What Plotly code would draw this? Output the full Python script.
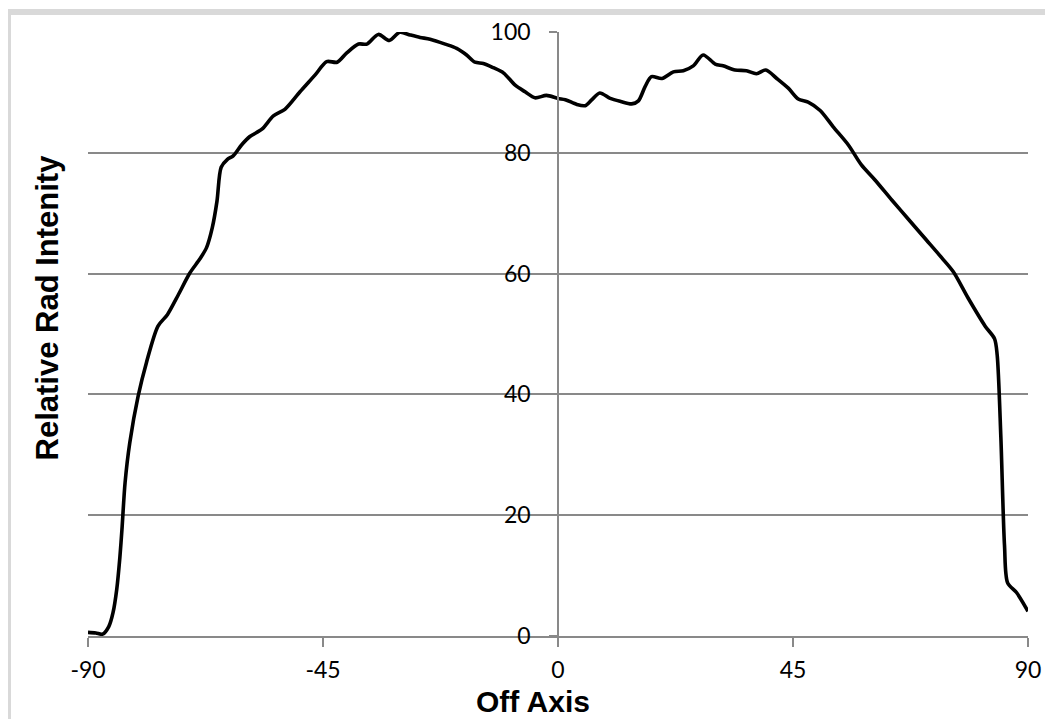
import plotly.graph_objects as go

# ---- data ----
off_axis = [-90, -88.5, -87.2, -86, -85.2, -84.5, -83.9, -83.5, -82.9, -82, -80.4, -78.8,
            -76.6, -74.8, -72.7, -70.5, -68.6, -67.3, -66.2, -65.3, -64.5, -63.3, -62.2,
            -60.6, -59, -56.7, -54.5, -52.3, -49.4, -46.5, -44.3, -42.3, -40.5, -38.2,
            -36.6, -34.4, -32.3, -30.3, -28.3, -26.4, -24.5, -21.6, -19.4, -17.5, -15.9,
            -14.3, -12.4, -10.4, -8.2, -6.3, -4.4, -2.2, 0.0, 1.4, 3.6, 5.2, 6.5, 8.0,
            10.0, 12.0, 14.1, 15.4, 16.7, 17.9, 19.9, 22.1, 24.0, 25.9, 27.8, 30.1, 31.6,
            33.9, 36.1, 38.0, 39.8, 41.9, 44.1, 46.0, 47.9, 50.2, 52.7, 55.6, 58.1, 60.7,
            64.0, 67.1, 70.5, 73.5, 75.7, 78.5, 81.8, 83.6, 84.1, 84.8, 85.5, 86.1, 87.8, 90.0]
intensity = [0.6, 0.5, 0.3, 1.6, 3.9, 7.7, 13.0, 17.6, 25.4, 32.0, 39.7, 45.3,
             51.3, 53.2, 56.5, 60.1, 62.4, 64.3, 67.6, 72.0, 77.6, 78.9, 79.5,
             81.3, 82.7, 83.9, 86.1, 87.2, 90.1, 92.9, 95.1, 95.0, 96.5, 98.0,
             98.0, 99.6, 98.6, 99.95, 99.5, 99.1, 98.8, 98.0, 97.3, 96.2, 95.0,
             94.8, 94.1, 93.2, 91.2, 90.1, 89.1, 89.5, 89.0, 88.8, 88.0, 87.8, 88.8, 89.9,
             89.0, 88.5, 88.1, 88.6, 91.0, 92.6, 92.3, 93.4, 93.6, 94.4, 96.2, 94.7, 94.4,
             93.7, 93.6, 93.1, 93.7, 92.3, 90.7, 88.9, 88.4, 87.0, 84.3, 81.3, 78.0, 75.5,
             72.1, 69.0, 65.6, 62.6, 60.3, 56.0, 51.3, 49.2, 46.5, 33.0, 15.0, 8.8, 7.2, 4.1]

x_ticks = [-90, -45, 0, 45, 90]
y_ticks = [0, 20, 40, 60, 80, 100]
x_title = "Off Axis"
y_title = "Relative Rad Intenity"

GRID = "#898989"
W, H = 1053, 719
OFF = 8  # page body margin of the browser
# target plot area in window pixels: x 88..1028, y 32..636
L, T = 88 - OFF, 32 - OFF
R = W - (1028 - OFF)
B = H - (636 - OFF)
PW, PH = W - L - R, H - T - B


def px_x(p):
    # window pixel -> paper fraction
    return (p - OFF - L) / PW


def px_y(p):
    return (H - B - (p - OFF)) / PH


fig = go.Figure()
fig.add_trace(go.Scatter(
    x=off_axis, y=intensity, mode="lines",
    line=dict(color="#000000", width=3.6, shape="spline", smoothing=0.8),
    showlegend=False, hoverinfo="x+y",
))

shapes = [
    # outer chart frame (light gray border)
    dict(type="rect", xref="paper", yref="paper",
         x0=px_x(8), x1=px_x(1075), y0=px_y(12), y1=px_y(740),
         line=dict(color="#d9d9d9", width=6), fillcolor="rgba(0,0,0,0)", layer="below"),
]
# white backgrounds behind y tick labels (hide gridlines there)
for v in y_ticks[1:]:
    nchar = len(str(v))
    shapes.append(dict(type="rect", xref="paper", yref="y",
                       x0=px_x(531 - nchar * 12.8 - 2), x1=px_x(548),
                       y0=v - 1.5, y1=v + 1.5,
                       line=dict(width=0), fillcolor="#ffffff", layer="between"))

fig.update_layout(
    width=W, height=H,
    margin=dict(l=L, r=R, t=T, b=B, autoexpand=False),
    paper_bgcolor="#ffffff", plot_bgcolor="#ffffff",
    font=dict(family="Lato, 'Open Sans', sans-serif", color="#000000", size=22),
    shapes=shapes,
    xaxis=dict(
        range=[-90, 90], tickvals=x_ticks, ticktext=[str(t) for t in x_ticks],
        showgrid=False, zeroline=False, showline=True, linecolor=GRID, linewidth=1.5,
        ticks="outside", ticklen=9, tickwidth=1.5, tickcolor=GRID,
        tickfont=dict(family="Lato", size=23, color="#000000"),
        ticklabelstandoff=4, automargin=False, fixedrange=True,
    ),
    yaxis=dict(
        range=[0, 100], tickvals=y_ticks, ticktext=[str(t) for t in y_ticks],
        anchor="free", position=0.5,
        showgrid=True, gridcolor=GRID, gridwidth=1.5,
        zeroline=False, showline=True, linecolor=GRID, linewidth=1.5,
        ticks="outside", ticklen=8, tickwidth=1.5, tickcolor=GRID,
        tickfont=dict(family="Lato", size=23, color="#000000"),
        ticklabelstandoff=14, automargin=False, fixedrange=True,
    ),
    annotations=[
        dict(text=x_title, xref="paper", yref="paper", x=px_x(533), y=px_y(701),
             xanchor="center", yanchor="middle", showarrow=False,
             font=dict(family="Liberation Sans, Arial, sans-serif", size=30, color="#000000", weight="bold")),
        dict(text=y_title, xref="paper", yref="paper", x=px_x(47), y=px_y(307.5),
             xanchor="center", yanchor="middle", showarrow=False, textangle=-90,
             font=dict(family="Liberation Sans, Arial, sans-serif", size=31, color="#000000", weight="bold")),
    ],
)

fig.write_html("out.html")
